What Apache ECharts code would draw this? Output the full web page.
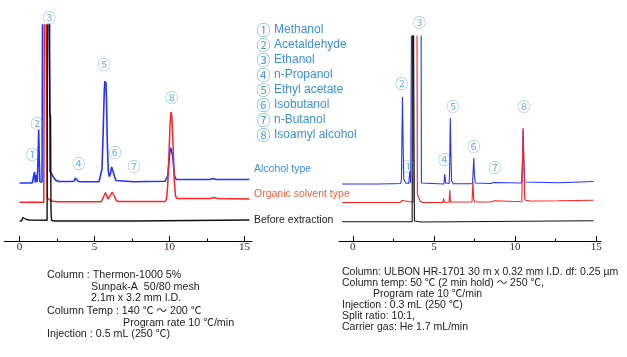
<!DOCTYPE html>
<html><head><meta charset="utf-8">
<script src="https://cdn.jsdelivr.net/npm/echarts@6/dist/echarts.min.js"></script>
<style>html,body{margin:0;padding:0;background:#fff}#c{width:627px;height:357px}</style>
</head><body><div id="c"></div>
<script>
// ---------- data ----------
const peakMarks = ['①','②','③','④','⑤','⑥','⑦','⑧'];
const peakNames = ['Methanol','Acetaldehyde','Ethanol','n-Propanol','Ethyl acetate','Isobutanol','n-Butanol','Isoamyl alcohol'];
const traceNames = ['Alcohol type','Organic solvent type','Before extraction'];
const majorTicks = [0,5,10,15];
const minorTicks = [2.5,7.5,12.5];

// Left chromatogram (packed column) : [time (min), signal]
const leftBlue = [[0,58],[0.85,58],[0.95,60],[1.0,69],[1.05,58.5],[1.1,59],[1.14,66],[1.18,59],[1.23,80],[1.28,111],[1.32,80],[1.36,59],[1.5,59],
  [1.57,400],[1.98,400],[2.03,70],[2.15,68],[2.25,64],[2.4,61],[2.6,59.5],[3.25,59.5],[3.35,60.5],[3.45,59.5],[3.65,60],[3.72,63],[3.78,64.5],[3.85,62],[3.92,59.5],
  [4.2,59.2],[5.3,59.2],[5.4,61],[5.5,72],[5.58,110],[5.65,150],[5.69,160],[5.72,155],[5.76,159],[5.8,140],[5.86,95],[5.92,70],[5.99,64.3],[6.07,68],[6.14,74],[6.2,75],[6.26,72],[6.33,65],[6.42,60.5],[6.55,59.5],
  [7.6,59.2],[7.7,59.7],[9.7,59.7],[9.8,61],[9.88,65],[9.96,78],[10.03,90],[10.08,93.3],[10.14,92],[10.2,86],[10.27,75],[10.34,65],[10.45,61.5],[12.7,61.5],[12.9,62.5],[13.1,61.5],[15.33,61.5]];
const leftRed = [[0,38.7],[0.95,38.7],[1.0,40],[1.05,38.7],[1.62,38.7],[1.69,400],[1.8,400],[1.86,43],[1.95,41],[2.1,40],[2.5,39.3],[3.75,39.3],[3.82,40.5],[3.9,39.3],
  [5.45,39.3],[5.55,41],[5.64,45.5],[5.72,48.3],[5.8,46],[5.9,42],[5.98,42.5],[6.08,46],[6.18,49],[6.26,48],[6.35,44],[6.45,40.5],[6.6,39.5],
  [9.72,39.5],[9.8,42],[9.88,55],[9.96,85],[10.04,118],[10.1,129],[10.16,124],[10.24,95],[10.32,60],[10.4,45],[10.5,42.5],[12.7,42.5],[12.95,43.5],[13.2,42.5],[15.33,42]];
const leftBlack = [[0,20],[0.15,20.2],[0.22,23.5],[0.3,22.5],[0.45,21.5],[0.7,21],[1.84,20.8],[1.88,400],[1.97,400],[2.02,128],[2.07,125],[2.1,30],[2.14,20.5],[2.4,20],[7.7,20],[7.75,20.8],[15.33,21]];
const leftPeakAt = [[0.85,87],[1.17,117.7],[1.99,224.3],[3.95,77.7],[5.63,176.7],[6.37,89.3],[7.63,74.7],[10.15,143.7]];

// Right chromatogram (capillary column)
const rightBlue = [[-0.65,57],[1.5,57],[2.4,57.3],[2.95,57.5],[3.0,62],[3.06,144],[3.1,100],[3.14,62],[3.2,60],[3.25,58],[3.45,57.5],[3.52,70],[3.57,58],[3.63,57.5],
  [3.67,400],[4.19,400],[4.23,58],[4.35,57],[5.62,57],[5.67,67],[5.72,58],[5.94,57.5],[5.97,70],[6.01,123],[6.05,85],[6.09,60],[6.2,57.3],
  [7.38,57.3],[7.42,70],[7.46,83],[7.5,65],[7.55,58],[8.5,57.5],[8.56,59.5],[8.62,57.8],[8.7,58.5],[8.76,57.8],
  [10.4,58],[10.46,80],[10.5,111],[10.54,85],[10.6,59],[10.7,58],[12.7,58.3],[12.8,59],[14.84,59.5]];
const rightRed = [[-0.65,38.5],[2.9,38.5],[2.98,39.8],[3.05,40.5],[3.12,38.8],[3.72,38.8],[3.78,400],[3.93,400],[3.98,47],[4.05,44],[4.15,40],[4.3,38.5],
  [5.55,38.5],[5.6,42.7],[5.65,38.7],[5.94,38.7],[5.98,51],[6.02,39],[7.35,39],[7.4,59],[7.45,42],[7.52,39],
  [8.5,39],[8.56,40.8],[8.62,39.2],[8.72,40.3],[8.8,39.2],[10.42,39.3],[10.47,90],[10.5,113],[10.54,80],[10.6,41],[10.7,39.5],
  [11.05,39.8],[11.12,41],[11.2,40],[12.7,40.2],[12.8,41],[14.84,40.8]];
const rightBlack = [[-0.65,19.3],[3.66,19.3],[3.69,400],[3.76,400],[3.8,20],[3.9,18.8],[4.2,19],[14.84,20.3]];
const rightPeakAt = [[3.42,75.3],[3.02,157.7],[4.11,218.7],[5.65,81.7],[6.18,135],[7.46,95],[8.77,73.7],[10.54,135]];

const leftConditions = ['Column : Thermon-1000 5%','Sunpak-A  50/80 mesh','2.1m x 3.2 mm I.D.','Column Temp : 140 ℃ ～ 200 ℃','Program rate 10 ℃/min','Injection : 0.5 mL (250 ℃)'];
const rightConditions = ['Column: ULBON HR-1701 30 m x 0.32 mm I.D. df: 0.25 µm','Column temp: 50 ℃ (2 min hold) ～ 250 ℃,','Program rate 10 ℃/min','Injection : 0.3 mL (250 ℃)','Split ratio: 10:1,','Carrier gas: He 1.7 mL/min'];

// ---------- layout / style ----------
const SANS = "'Liberation Sans', Arial, 'Noto Sans CJK JP', sans-serif";
const CJK = "'Noto Sans CJK JP', sans-serif";
const BLUE = '#2233ff', RED = '#ff2222', BLACK = '#111111';
const LBL_BLUE = '#3b8ee0', CIRC = '#4f9be6';

function xAxes(grid, min, max, labelColor) {
  return [
    { type:'value', gridIndex:grid, min, max, position:'bottom',
      axisLine:{show:true, onZero:false, lineStyle:{color:'#000', width:1}},
      axisTick:{show:true, inside:true, length:5, customValues:majorTicks, lineStyle:{color:'#000'}},
      axisLabel:{show:true, customValues:majorTicks, margin:1, fontSize:11, color:labelColor, fontFamily:"'Liberation Serif', 'Times New Roman', serif"},
      splitLine:{show:false} },
    { type:'value', gridIndex:grid, min, max, position:'bottom',
      axisLine:{show:false}, axisLabel:{show:false}, splitLine:{show:false},
      axisTick:{show:true, inside:true, length:2.5, customValues:minorTicks, lineStyle:{color:'#000'}} }
  ];
}
function yAxis(grid, max) {
  return { type:'value', gridIndex:grid, min:0, max, show:false, splitLine:{show:false} };
}
function trace(data, color, width, xi, yi) {
  return { type:'line', data, xAxisIndex:xi, yAxisIndex:yi, symbol:'none', showSymbol:false,
    lineStyle:{color, width}, itemStyle:{color}, silent:true, clip:true, z:2 };
}
function peakLabels(pos, xi, yi) {
  return { type:'scatter', xAxisIndex:xi, yAxisIndex:yi, symbolSize:1, clip:false, silent:true,
    itemStyle:{color:'rgba(0,0,0,0)'}, z:5,
    label:{ show:true, position:'inside', color:CIRC, fontSize:13, fontFamily:CJK,
      formatter:(p)=>peakMarks[p.dataIndex] },
    data: pos };
}

const graphic = [];
function txt(x, y, text, fill, font) {
  graphic.push({ type:'text', x, y, silent:true,
    style:{ text, fill, font, verticalAlign:'middle', textVerticalAlign:'middle', align:'left' } });
}
// peak key
peakNames.forEach((n,i)=>{
  txt(256.5, 29.3 + 15*i, peakMarks[i], CIRC, '14px ' + CJK);
  txt(274, 29.3 + 15*i, n, LBL_BLUE, '12px ' + SANS);
});
// trace names
txt(254, 169.5, traceNames[0], LBL_BLUE, '10.5px ' + SANS);
txt(254, 194.5, traceNames[1], '#f2603a', '10.5px ' + SANS);
txt(254, 220, traceNames[2], '#222', '10.5px ' + SANS);
// conditions
const lcx = [47, 91, 91, 47, 123, 47], lcy = [275, 286.7, 298.3, 311, 322.7, 334.3];
leftConditions.forEach((t,i)=>txt(lcx[i], lcy[i], t, '#222', '10.7px ' + SANS));
const rcx = [342, 342, 373, 342, 342, 342], rcy = [272.3, 283.3, 294.3, 305, 315.7, 326.7];
rightConditions.forEach((t,i)=>txt(rcx[i], rcy[i], t, '#222', '10.5px ' + SANS));

const chart = echarts.init(document.getElementById('c'), null, {renderer:'canvas'});
chart.setOption({
  animation:false,
  backgroundColor:'#fff',
  textStyle:{fontFamily:SANS},
  grid:[
    { left:4.5, right:375, top:25, bottom:116, containLabel:false, outerBoundsMode:'none' },
    { left:339, right:26, top:36, bottom:116, containLabel:false, outerBoundsMode:'none' }
  ],
  xAxis:[...xAxes(0, -1, 15.5, '#4a2222'), ...xAxes(1, -0.85, 15.3, '#333')],
  yAxis:[yAxis(0, 216), yAxis(1, 205)],
  series:[
    trace(leftBlue, BLUE, 1.6, 0, 0),
    trace(leftRed, RED, 1.5, 0, 0),
    trace(leftBlack, BLACK, 1.4, 0, 0),
    trace(rightBlue, BLUE, 1.1, 2, 1),
    trace(rightRed, RED, 1.1, 2, 1),
    trace(rightBlack, BLACK, 1.1, 2, 1),
    peakLabels(leftPeakAt, 0, 0),
    peakLabels(rightPeakAt, 2, 1)
  ],
  graphic
});
</script></body></html>
